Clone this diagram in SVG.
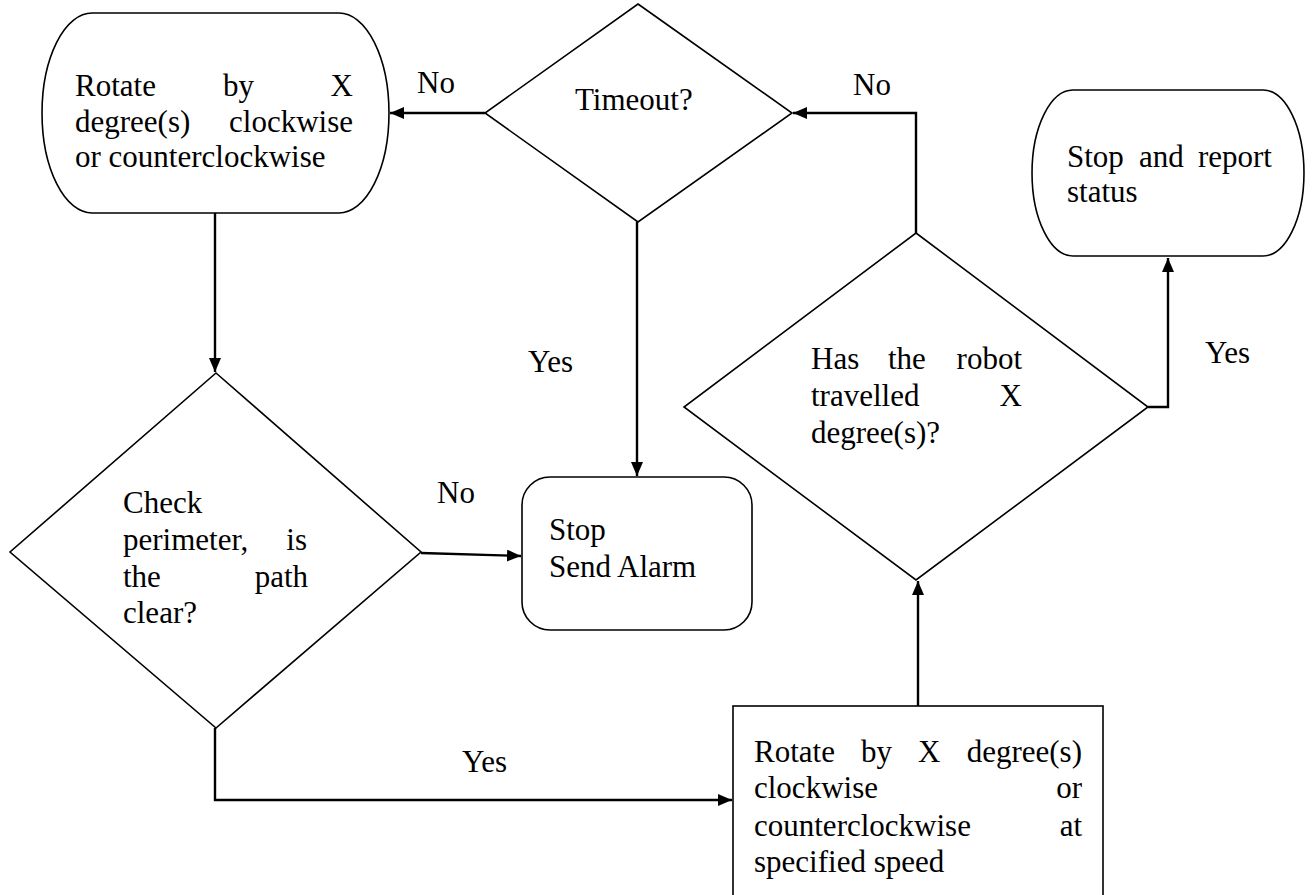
<svg xmlns="http://www.w3.org/2000/svg" width="1312" height="895" viewBox="0 0 1312 895">
<style>
.shape{fill:#fff;stroke:#000;stroke-width:1.6}
.conn{fill:none;stroke:#000;stroke-width:2.4}
text{font-family:"Liberation Serif","Times New Roman",serif;font-size:31px;fill:#000}
.e{text-anchor:end}
</style>
<defs>
<marker id="arr" viewBox="0 0 14 12" refX="14" refY="6" markerWidth="14" markerHeight="12" markerUnits="userSpaceOnUse" orient="auto">
<path d="M0,0 L14,6 L0,12 Z" fill="#000"/>
</marker>
</defs>
<rect width="1312" height="895" fill="#fff"/>
<g id="connectors">
<path class="conn" d="M485,113 H390" marker-end="url(#arr)"/>
<path class="conn" d="M916,233 V113 H793" marker-end="url(#arr)"/>
<path class="conn" d="M637,222 V476" marker-end="url(#arr)"/>
<path class="conn" d="M215,213 V372" marker-end="url(#arr)"/>
<path class="conn" d="M421,553 L521,556" marker-end="url(#arr)"/>
<path class="conn" d="M215,728 V800 H732" marker-end="url(#arr)"/>
<path class="conn" d="M918,706 V581" marker-end="url(#arr)"/>
<path class="conn" d="M1148,407 H1168 V258" marker-end="url(#arr)"/>
<text x="417" y="93">No</text>
<text x="853" y="95">No</text>
<text x="528" y="372">Yes</text>
<text x="437" y="503">No</text>
<text x="1205" y="363">Yes</text>
<text x="462" y="772">Yes</text>
</g>
<g id="rotate-start">
<path class="shape" d="M92,13 H339 A50,100 0 0 1 339,213 H92 A50,100 0 0 1 92,13 Z"/>
<text x="75" y="96">Rotate</text><text x="223" y="96">by</text><text class="e" x="353" y="96">X</text>
<text x="75" y="132">degree(s)</text><text class="e" x="353" y="132">clockwise</text>
<text x="75" y="167">or counterclockwise</text>
</g>
<g id="timeout">
<polygon class="shape" points="638,4 792,113 638,222 485,113"/>
<text x="575" y="110">Timeout?</text>
</g>
<g id="stop-report">
<path class="shape" d="M1073,90 H1263 A41,83 0 0 1 1263,256 H1073 A41,83 0 0 1 1073,90 Z"/>
<text x="1067" y="167">Stop</text><text x="1139" y="167">and</text><text class="e" x="1272" y="167">report</text>
<text x="1067" y="202">status</text>
</g>
<g id="travelled">
<polygon class="shape" points="916,233 1148,407 916,580 684,407"/>
<text x="811" y="369">Has</text><text x="888" y="369">the</text><text class="e" x="1022" y="369">robot</text>
<text x="811" y="406">travelled</text><text class="e" x="1022" y="406">X</text>
<text x="811" y="443">degree(s)?</text>
</g>
<g id="check">
<polygon class="shape" points="216,373 421,552 216,728 10,552"/>
<text x="123" y="513">Check</text>
<text x="123" y="550">perimeter,</text><text class="e" x="307" y="550">is</text>
<text x="123" y="587">the</text><text class="e" x="308" y="587">path</text>
<text x="123" y="623">clear?</text>
</g>
<g id="stop-alarm">
<rect class="shape" x="522" y="477" width="230" height="153" rx="28" ry="28"/>
<text x="549" y="540">Stop</text>
<text x="549" y="577">Send Alarm</text>
</g>
<g id="rotate-speed">
<rect class="shape" x="733" y="706" width="370" height="220"/>
<text x="754" y="762">Rotate</text><text x="861" y="762">by</text><text x="918" y="762">X</text><text class="e" x="1082" y="762">degree(s)</text>
<text x="754" y="798">clockwise</text><text class="e" x="1082" y="798">or</text>
<text x="754" y="836">counterclockwise</text><text class="e" x="1082" y="836">at</text>
<text x="754" y="872">specified speed</text>
</g>
</svg>
